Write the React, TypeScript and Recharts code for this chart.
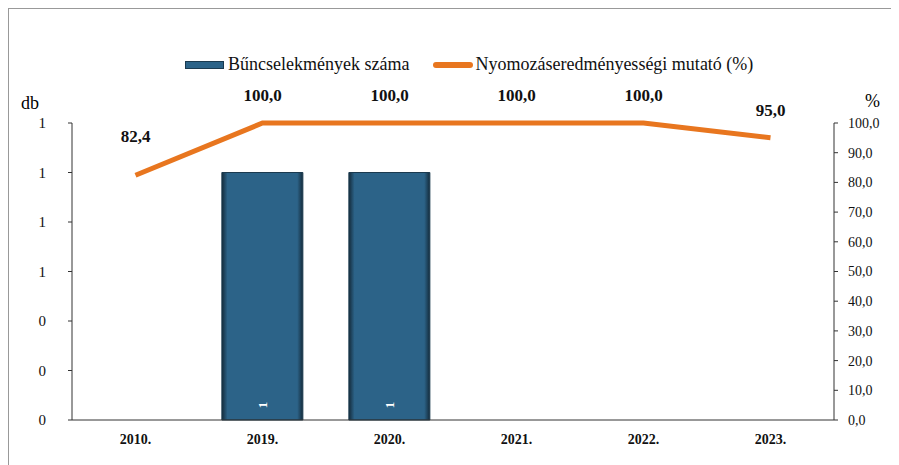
import React from 'react';
import {
  ComposedChart,
  Bar,
  Line,
  XAxis,
  YAxis,
  LabelList,
} from 'recharts';

// Chart values
const YEARS = ['2010.', '2019.', '2020.', '2021.', '2022.', '2023.'];
const CRIMES = [0, 1, 1, 0, 0, 0];
const SOLVE_RATE = [82.4, 100, 100, 100, 100, 95];
const LEFT_TICKS = [0, 0.2, 0.4, 0.6, 0.8, 1, 1.2];
const RIGHT_TICKS = [0, 10, 20, 30, 40, 50, 60, 70, 80, 90, 100];

const SERIES_BAR = 'Bűncselekmények száma';
const SERIES_LINE = 'Nyomozáseredményességi mutató (%)';

const BAR_COLOR = '#2c6388';
const LINE_COLOR = '#e8761f';
const FONT = '"Liberation Serif", "Times New Roman", serif';

const data = YEARS.map((year, i) => ({
  year,
  crimes: CRIMES[i],
  rate: SOLVE_RATE[i],
}));

const fmtComma = (v: number) => v.toFixed(1).replace('.', ',');

// rate label above each point (first one sits a bit higher, like the original)
const RateLabel = (props: any) => {
  const { x, y, value, index } = props;
  const lift = index === 0 ? 33 : 22;
  return (
    <text
      x={x}
      y={y - lift}
      textAnchor="middle"
      fontFamily={FONT}
      fontSize={17}
      fontWeight="bold"
      fill="#111"
    >
      {fmtComma(value)}
    </text>
  );
};

// small rotated count inside bar bottom
const CountLabel = (props: any) => {
  const { x, y, width, height, value } = props;
  if (!value) return null;
  const cx = x + width / 2;
  const cy = y + height - 15;
  return (
    <text
      x={cx}
      y={cy}
      textAnchor="middle"
      dominantBaseline="central"
      fontFamily={FONT}
      fontSize={13}
      fontWeight="bold"
      fill="#fff"
      transform={`rotate(-90 ${cx} ${cy})`}
    >
      {value}
    </text>
  );
};

export default function App() {
  return (
    <div
      style={{
        position: 'relative',
        width: 889,
        height: 460,
        borderTop: '1px solid #999',
        borderLeft: '1px solid #999',
        borderRight: '1px solid #bbb',
        fontFamily: FONT,
        background: '#fff',
      }}
    >
      {/* legend */}
      <div
        style={{
          position: 'absolute',
          top: 45,
          left: 176,
          display: 'flex',
          alignItems: 'center',
          fontSize: 18,
          color: '#111',
          whiteSpace: 'nowrap',
        }}
      >
        <span
          style={{
            display: 'inline-block',
            width: 37,
            height: 6,
            background: BAR_COLOR,
            border: '1px solid #1b3a4f',
            marginRight: 4,
          }}
        />
        <span>{SERIES_BAR}</span>
        <span
          style={{
            display: 'inline-block',
            width: 40,
            height: 6,
            borderRadius: 3,
            background: LINE_COLOR,
            marginLeft: 24,
            marginRight: 2,
          }}
        />
        <span>{SERIES_LINE}</span>
      </div>

      {/* axis titles */}
      <div style={{ position: 'absolute', left: 12, top: 84, fontSize: 18 }}>db</div>
      <div style={{ position: 'absolute', left: 856, top: 82, fontSize: 18 }}>%</div>

      <ComposedChart
        width={889}
        height={457}
        data={data}
        margin={{ top: 114, right: 10, bottom: 16, left: 10 }}
        barCategoryGap="18%"
      >
        <defs>
          <linearGradient id="barShade" x1="0" y1="0" x2="1" y2="0">
            <stop offset="0%" stopColor="#142b3b" />
            <stop offset="7%" stopColor={BAR_COLOR} />
            <stop offset="93%" stopColor={BAR_COLOR} />
            <stop offset="100%" stopColor="#142b3b" />
          </linearGradient>
        </defs>
        <XAxis
          dataKey="year"
          axisLine={{ stroke: '#333' }}
          tickLine={false}
          height={30}
          tickMargin={8}
          tick={{ fontFamily: FONT, fontSize: 14, fontWeight: 'bold', fill: '#111' }}
        />
        <YAxis
          yAxisId="left"
          orientation="left"
          domain={[0, 1.2]}
          ticks={LEFT_TICKS}
          width={53}
          axisLine={{ stroke: '#333' }}
          tickLine={{ stroke: '#333' }}
          tickSize={4}
          tickMargin={22}
          tickFormatter={(v: number) => String(Math.round(v))}
          tick={{ fontFamily: FONT, fontSize: 15, fill: '#111' }}
        />
        <YAxis
          yAxisId="right"
          orientation="right"
          domain={[0, 100]}
          ticks={RIGHT_TICKS}
          width={54}
          axisLine={{ stroke: '#333' }}
          tickLine={{ stroke: '#333' }}
          tickSize={4}
          tickMargin={10}
          tickFormatter={fmtComma}
          tick={{ fontFamily: FONT, fontSize: 14, fill: '#111' }}
        />
        <Bar
          yAxisId="left"
          dataKey="crimes"
          name={SERIES_BAR}
          fill="url(#barShade)"
          stroke="#1b3a4f"
          strokeWidth={1}
          isAnimationActive={false}
        >
          <LabelList dataKey="crimes" content={CountLabel} />
        </Bar>
        <Line
          yAxisId="right"
          dataKey="rate"
          name={SERIES_LINE}
          stroke={LINE_COLOR}
          strokeWidth={5}
          dot={false}
          type="linear"
          isAnimationActive={false}
        >
          <LabelList dataKey="rate" content={RateLabel} />
        </Line>
      </ComposedChart>
    </div>
  );
}
